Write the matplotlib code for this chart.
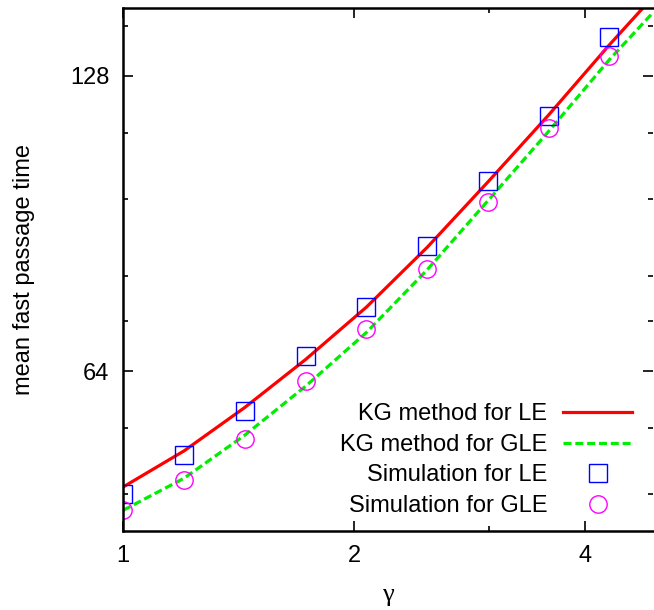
import matplotlib
matplotlib.use('Agg')
import matplotlib.pyplot as plt
from matplotlib.ticker import FixedLocator, NullFormatter, FixedFormatter

plt.rcParams['font.family'] = ['Liberation Sans', 'DejaVu Sans']

# gamma values (simulation points)
gam = [1.0, 1.2, 1.44, 1.728, 2.0736, 2.48832, 2.985984, 3.5831808, 4.29981696]
sim_le = [48.0, 52.6, 58.3, 66.3, 74.4, 85.8, 100.1, 116.5, 140.1]
sim_gle = [46.2, 49.6, 54.6, 62.5, 70.7, 81.4, 95.3, 113.2, 134.1]

# KG method curves
kg_le_x = [1.0, 1.2, 1.44, 1.728, 2.0736, 2.48832, 2.985984, 3.5831808, 4.29981696, 4.75]
kg_le_y = [48.8, 53.1, 58.8, 65.8, 74.4, 85.6, 99.8, 116.8, 137.7, 150.0]
kg_gle_x = [1.0, 1.2, 1.44, 1.728, 2.0736, 2.48832, 2.985984, 3.5831808, 4.29981696, 4.9]
kg_gle_y = [46.2, 49.8, 55.1, 61.8, 70.1, 81.2, 95.5, 112.4, 133.0, 148.5]

xmajor = [1, 2, 4]
xminor = [3]
ymajor = [64, 128]
yminor = [48, 56, 72, 80, 96, 112, 144]

fig = plt.figure(figsize=(6.54, 6.10), dpi=100)
ax = fig.add_axes([123.3/654, 1-531/610, 529.7/654, 522.7/610])

ax.plot(kg_le_x, kg_le_y, color='#ff0000', lw=2.3, label='KG method for LE')
ax.plot(kg_gle_x, kg_gle_y, color='#00ee00', lw=2.3, dashes=(2.5, 1.2), label='KG method for GLE')
ax.plot(gam, sim_le, ls='none', marker='s', ms=12.5, mfc='none', mec='#0000ff', mew=1.0,
        label='Simulation for LE')
ax.plot(gam, sim_gle, ls='none', marker='o', ms=12.5, mfc='none', mec='#ff00ff', mew=1.0,
        label='Simulation for GLE')

ax.set_xscale('log', base=2)
ax.set_yscale('log', base=2)
ax.set_xlim(1, 4.9)
ax.set_ylim(44, 150)

ax.xaxis.set_major_locator(FixedLocator(xmajor))
ax.xaxis.set_major_formatter(FixedFormatter([str(v) for v in xmajor]))
ax.xaxis.set_minor_locator(FixedLocator(xminor))
ax.xaxis.set_minor_formatter(NullFormatter())
ax.yaxis.set_major_locator(FixedLocator(ymajor))
ax.yaxis.set_major_formatter(FixedFormatter([str(v) for v in ymajor]))
ax.yaxis.set_minor_locator(FixedLocator(yminor))
ax.yaxis.set_minor_formatter(NullFormatter())

ax.tick_params(which='both', direction='in', top=True, right=True, labelsize=17, width=1.2)
ax.tick_params(which='major', length=7, pad=10)
ax.tick_params(which='minor', length=3.5)
for s in ax.spines.values():
    s.set_linewidth(1.8)
ax.spines['right'].set_visible(False)

ax.set_ylabel('mean fast passage time', fontsize=17)
ax.yaxis.set_label_coords(-0.166, 0.5)
ax.set_xlabel('γ', fontsize=19, family=['Liberation Serif', 'DejaVu Serif'])
ax.xaxis.set_label_coords(0.5, -0.102)

ax.legend(loc='lower right', bbox_to_anchor=(0.96, 0.027), frameon=False, markerfirst=False,
          fontsize=17, borderpad=0, borderaxespad=0, handlelength=2.9, handletextpad=0.68,
          labelspacing=0.36)

fig.savefig('out.png', dpi=100)
